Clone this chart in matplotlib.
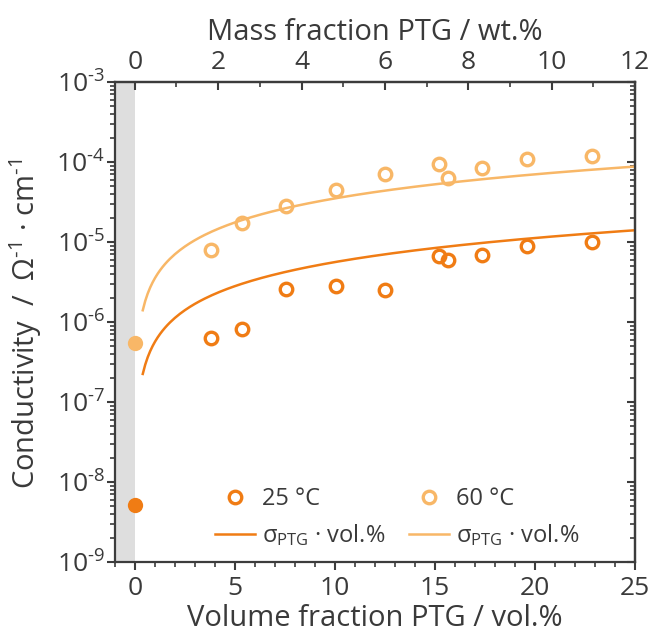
import matplotlib
matplotlib.use("Agg")
import matplotlib.pyplot as plt
import numpy as np
from matplotlib.ticker import LogLocator, NullFormatter, MultipleLocator

plt.rcParams['font.family'] = ['Open Sans', 'DejaVu Sans']
plt.rcParams['mathtext.fontset'] = 'custom'
plt.rcParams['mathtext.rm'] = 'Open Sans'
plt.rcParams['mathtext.it'] = 'Open Sans:italic'
plt.rcParams['mathtext.bf'] = 'Open Sans:bold'

# ---- data ----
vol_25 = [3.8, 5.35, 7.55, 10.05, 12.5, 15.2, 15.65, 17.35, 19.6, 22.85]
sig_25 = [6.3e-7, 8.1e-7, 2.6e-6, 2.8e-6, 2.5e-6, 6.6e-6, 6.0e-6, 6.8e-6, 8.9e-6, 1.0e-5]
vol_60 = [3.8, 5.35, 7.55, 10.05, 12.5, 15.2, 15.65, 17.35, 19.6, 22.85]
sig_60 = [7.9e-6, 1.7e-5, 2.8e-5, 4.5e-5, 7.0e-5, 9.3e-5, 6.3e-5, 8.3e-5, 1.1e-4, 1.2e-4]
vol_pure = [0.0, 0.0]
sig_pure = [5.1e-9, 5.5e-7]          # 25 °C, 60 °C at 0 vol.%
sigma_ptg = {'25': 5.6e-5, '60': 3.5e-4}  # conductivity of pure PTG, line = sigma_PTG * vol.%
line_vol = np.linspace(0.4, 25, 200)
yticks = [1e-9, 1e-8, 1e-7, 1e-6, 1e-5, 1e-4, 1e-3]
ytick_labels = [r'$\mathregular{10^{\text{-}%d}}$' % k for k in [9, 8, 7, 6, 5, 4, 3]]
xticks = [0, 5, 10, 15, 20, 25]
wt_ticks = [0, 2, 4, 6, 8, 10, 12]
wt_per_vol = 12 / 25

dark = '#F07C14'
light = '#F8B767'
axc = '#3c3c3c'
txt = '#3a3a3a'

fig = plt.figure(figsize=(6.52, 6.35), dpi=100)
ax = fig.add_axes([0.176, 0.115, 0.798, 0.756])
ax.set_yscale('log')
ax.set_xlim(-1, 25)
ax.set_ylim(1e-9, 1e-3)

ax.axvspan(-1, 0, color='#DEDEDE', lw=0, zorder=0)

l25, = ax.plot(line_vol, sigma_ptg['25'] * line_vol / 100, color=dark, lw=1.8, zorder=2)
l60, = ax.plot(line_vol, sigma_ptg['60'] * line_vol / 100, color=light, lw=1.8, zorder=2)
p25, = ax.plot(vol_25, sig_25, 'o', mfc='none', mec=dark, mew=2.4, ms=9, ls='none', zorder=3)
p60, = ax.plot(vol_60, sig_60, 'o', mfc='none', mec=light, mew=2.4, ms=9, ls='none', zorder=3)
ax.plot(vol_pure[0], sig_pure[0], 'o', color=dark, ms=11, mew=0, zorder=3)
ax.plot(vol_pure[1], sig_pure[1], 'o', color=light, ms=11, mew=0, zorder=3)

for s in ax.spines.values():
    s.set_color(axc)
    s.set_linewidth(1.6)

ax.set_yticks(yticks)
ax.set_yticklabels(ytick_labels)
ax.yaxis.set_minor_locator(LogLocator(base=10, subs=np.arange(2, 10)))
ax.yaxis.set_minor_formatter(NullFormatter())
ax.set_xticks(xticks)
ax.xaxis.set_minor_locator(MultipleLocator(1))
ax.tick_params(axis='both', which='major', direction='out', length=6, width=1.5,
               color=axc, labelcolor=txt, labelsize=19)
ax.tick_params(axis='both', which='minor', direction='out', length=3.5, width=1.2, color=axc)
ax.tick_params(axis='y', pad=1)
ax.tick_params(axis='x', pad=4)

# right axis: inward ticks
axr = ax.secondary_yaxis('right')
axr.set_yticks(yticks)
axr.yaxis.set_minor_locator(LogLocator(base=10, subs=np.arange(2, 10)))
axr.tick_params(which='major', direction='in', length=6, width=1.5, color=axc, labelright=False)
axr.tick_params(which='minor', direction='in', length=3.5, width=1.2, color=axc)
axr.yaxis.set_minor_formatter(NullFormatter())
axr.spines['right'].set_color(axc)
axr.spines['right'].set_linewidth(1.6)

# top axis: mass fraction
axt = ax.secondary_xaxis('top', functions=(lambda v: v * wt_per_vol, lambda w: w / wt_per_vol))
axt.set_xticks(wt_ticks)
axt.xaxis.set_minor_locator(MultipleLocator(1))
axt.tick_params(which='major', direction='in', length=6, width=1.5, color=axc,
                labelcolor=txt, labelsize=19, pad=5)
axt.tick_params(which='minor', direction='in', length=3.5, width=1.2, color=axc)
axt.spines['top'].set_color(axc)
axt.spines['top'].set_linewidth(1.6)
axt.set_xlabel('Mass fraction PTG / wt.%', fontsize=21, color=txt, labelpad=7)

ax.set_xlabel('Volume fraction PTG / vol.%', fontsize=21, color=txt, labelpad=2)
ax.set_ylabel(r'Conductivity  /  $\mathregular{\Omega^{\text{-}1}}$ · cm$\mathregular{^{\text{-}1}}$',
              fontsize=21, color=txt)
ax.yaxis.set_label_coords(-0.136, 0.497)

lab_line = r'σ$_{\mathregular{PTG}}$ · vol.%'
leg = ax.legend([p25, l25, p60, l60], ['25 °C', lab_line, '60 °C', lab_line],
                ncol=2, loc='lower left', bbox_to_anchor=(0.151, -0.015),
                frameon=False, fontsize=17, handlelength=1.7, columnspacing=1.0,
                labelspacing=0.45, handletextpad=0.3, labelcolor=txt)

fig.savefig('out.png', dpi=100)
